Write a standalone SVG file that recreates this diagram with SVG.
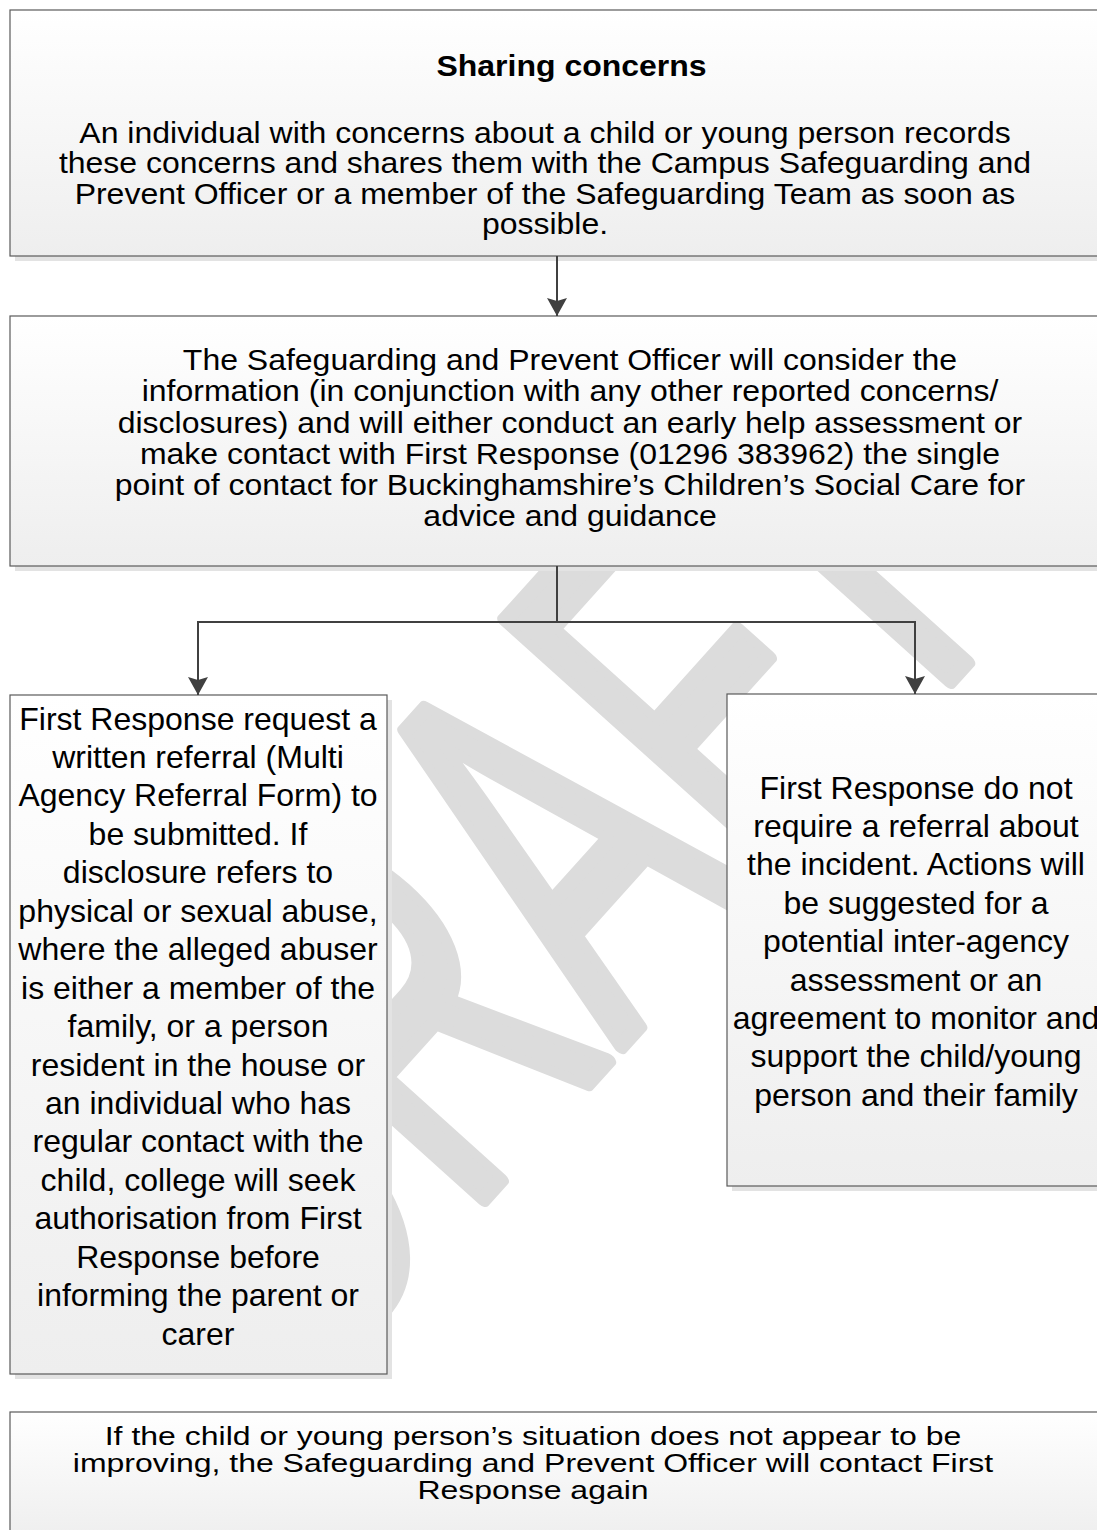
<svg xmlns="http://www.w3.org/2000/svg" width="1097" height="1530" viewBox="0 0 1097 1530">
<defs>
<linearGradient id="fill" x1="0" y1="0" x2="0" y2="1">
<stop offset="0" stop-color="#ffffff"/>
<stop offset="1" stop-color="#eeeeee"/>
</linearGradient>
<marker id="ah" viewBox="0 0 18 20" refX="18" refY="10" markerWidth="18" markerHeight="20" markerUnits="userSpaceOnUse" orient="auto">
<path d="M0,0 L18,10 L0,20 L3,10 Z" fill="#404040"/>
</marker>
<style>
.box{fill:url(#fill);stroke:#5a5a5a;stroke-width:1.2}
.sh{fill:#e3e3e3}
.t{font-family:"Liberation Sans",Arial,sans-serif;fill:#000;text-anchor:middle}
.s29{font-size:29px}
.s32{font-size:32px}
.s25{font-size:25px}
.b{font-weight:bold}
.con{fill:none;stroke:#404040;stroke-width:2}
.wm{font-family:"Liberation Sans",Arial,sans-serif;font-size:540px;fill:#dcdcdc;stroke:#dcdcdc;stroke-width:16;stroke-linejoin:round}
</style>
</defs>
<rect width="1097" height="1530" fill="#ffffff"/>
<text class="wm" transform="translate(310,1392) rotate(-48) scale(0.593,1)">DRAFT</text>

<g id="n1">
<rect class="sh" x="15" y="15" width="1110" height="246"/>
<rect class="box" x="10" y="10" width="1110" height="246"/>
<g transform="translate(571.5,0) scale(1.103,1)"><text class="t s29 b" x="0" y="76.5">Sharing concerns</text></g>
<g transform="translate(545,0) scale(1.103,1)" class="t s29">
<text x="0" y="143">An individual with concerns about a child or young person records</text>
<text x="0" y="173.5">these concerns and shares them with the Campus Safeguarding and</text>
<text x="0" y="204">Prevent Officer or a member of the Safeguarding Team as soon as</text>
<text x="0" y="234.5">possible.</text>
</g>
</g>

<g id="n2">
<rect class="sh" x="15" y="321" width="1110" height="250"/>
<rect class="box" x="10" y="316" width="1110" height="250"/>
<g transform="translate(570,0) scale(1.103,1)" class="t s29">
<text x="0" y="370">The Safeguarding and Prevent Officer will consider the</text>
<text x="0" y="401.3">information (in conjunction with any other reported concerns/</text>
<text x="0" y="432.6">disclosures) and will either conduct an early help assessment or</text>
<text x="0" y="463.9">make contact with First Response (01296 383962) the single</text>
<text x="0" y="495.2">point of contact for Buckinghamshire’s Children’s Social Care for</text>
<text x="0" y="526.5">advice and guidance</text>
</g>
</g>

<g id="n3">
<rect class="sh" x="15" y="700" width="377" height="679"/>
<rect class="box" x="10" y="695" width="377" height="679"/>
<g class="t s32">
<text x="198" y="729.5">First Response request a</text>
<text x="198" y="767.9">written referral (Multi</text>
<text x="198" y="806.4">Agency Referral Form) to</text>
<text x="198" y="844.8">be submitted. If</text>
<text x="198" y="883.3">disclosure refers to</text>
<text x="198" y="921.7">physical or sexual abuse,</text>
<text x="198" y="960.1">where the alleged abuser</text>
<text x="198" y="998.6">is either a member of the</text>
<text x="198" y="1037">family, or a person</text>
<text x="198" y="1075.5">resident in the house or</text>
<text x="198" y="1113.9">an individual who has</text>
<text x="198" y="1152.3">regular contact with the</text>
<text x="198" y="1190.8">child, college will seek</text>
<text x="198" y="1229.2">authorisation from First</text>
<text x="198" y="1267.7">Response before</text>
<text x="198" y="1306.1">informing the parent or</text>
<text x="198" y="1344.5">carer</text>
</g>
</g>

<g id="n4">
<rect class="sh" x="732" y="699" width="400" height="492"/>
<rect class="box" x="727" y="694" width="400" height="492"/>
<g class="t s32">
<text x="916" y="798.5">First Response do not</text>
<text x="916" y="836.9">require a referral about</text>
<text x="916" y="875.3">the incident. Actions will</text>
<text x="916" y="913.7">be suggested for a</text>
<text x="916" y="952.1">potential inter-agency</text>
<text x="916" y="990.5">assessment or an</text>
<text x="916" y="1028.9">agreement to monitor and</text>
<text x="916" y="1067.3">support the child/young</text>
<text x="916" y="1105.7">person and their family</text>
</g>
</g>

<g id="n5">
<rect class="sh" x="15" y="1417" width="1110" height="130"/>
<rect class="box" x="10" y="1412" width="1110" height="130"/>
<g transform="translate(533,0) scale(1.28,1)" class="t s25">
<text x="0" y="1445">If the child or young person’s situation does not appear to be</text>
<text x="0" y="1472">improving, the Safeguarding and Prevent Officer will contact First</text>
<text x="0" y="1499">Response again</text>
</g>
</g>

<g id="connectors">
<path class="con" d="M557,256 V316" marker-end="url(#ah)"/>
<path class="con" d="M557,566 V622 H198 V695" marker-end="url(#ah)"/>
<path class="con" d="M557,622 H915 V694" marker-end="url(#ah)"/>
</g>
</svg>
